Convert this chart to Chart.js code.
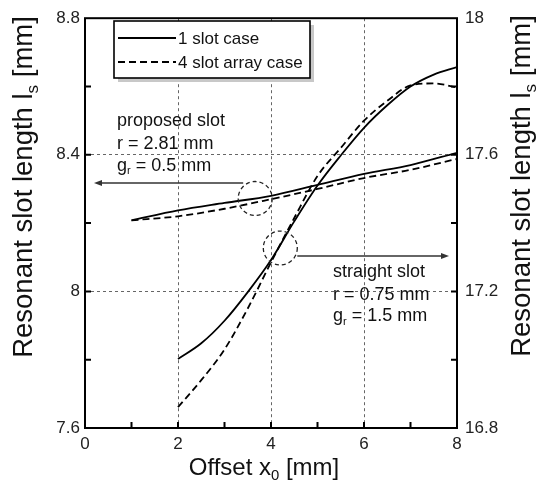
<!DOCTYPE html>
<html>
<head>
<meta charset="utf-8">
<script src="https://cdn.jsdelivr.net/npm/chart.js@4/dist/chart.umd.min.js"></script>
<style>
  body { margin: 0; background: #fff; }
  #wrap { width: 544px; height: 481px; }
</style>
</head>
<body>
<div id="wrap"><canvas id="slots" width="544" height="481"></canvas></div>
<script>
// ---------------- data ----------------
const xProposed = [1, 2, 3, 4, 5, 6, 7, 8];
const proposed1Slot = [8.208, 8.237, 8.259, 8.280, 8.312, 8.344, 8.370, 8.406];
const proposed4Slot = [8.208, 8.220, 8.242, 8.270, 8.300, 8.332, 8.356, 8.388];

const xStraight = [2, 2.5, 3, 3.5, 4, 4.5, 5, 5.5, 6, 6.5, 7, 7.5, 8];
const straight1Slot = [17.002, 17.048, 17.114, 17.198, 17.292, 17.405, 17.510, 17.598, 17.679, 17.745, 17.800, 17.835, 17.857];
const straight4Slot = [16.861, 16.940, 17.030, 17.150, 17.285, 17.415, 17.538, 17.620, 17.700, 17.758, 17.803, 17.809, 17.797];

const xTickLabels = [0, 2, 4, 6, 8];
const leftTickLabels = [7.6, 8, 8.4, 8.8];
const rightTickLabels = [16.8, 17.2, 17.6, 18];
const legendLabels = ["1 slot case", "4 slot array case"];

const FONT = "'Liberation Sans', Arial, sans-serif";
const pts = (xs, ys) => xs.map((x, i) => ({ x: x, y: ys[i] }));
const round1 = v => Math.round(v * 10) / 10;

// ---------------- drawing helpers ----------------
function textWithSub(ctx, parts, x, y, size) {
  // parts: [text, sub, text, ...] alternating normal/subscript, drawn left aligned
  let cx = x;
  parts.forEach((p, i) => {
    const sub = i % 2 === 1;
    ctx.font = (sub ? size * 0.62 : size) + "px " + FONT;
    ctx.fillText(p, cx, sub ? y + size * 0.22 : y);
    cx += ctx.measureText(p).width;
  });
  return cx - x;
}
function measureSub(ctx, parts, size) {
  let w = 0;
  parts.forEach((p, i) => {
    ctx.font = (i % 2 === 1 ? size * 0.62 : size) + "px " + FONT;
    w += ctx.measureText(p).width;
  });
  return w;
}
function arrow(ctx, x1, y, x2) {
  const dir = x2 > x1 ? 1 : -1;
  ctx.beginPath();
  ctx.moveTo(x1, y);
  ctx.lineTo(x2 - dir * 6, y);
  ctx.stroke();
  ctx.beginPath();
  ctx.moveTo(x2, y);
  ctx.lineTo(x2 - dir * 8, y - 3);
  ctx.lineTo(x2 - dir * 8, y + 3);
  ctx.closePath();
  ctx.fill();
}

const decorations = {
  id: 'decorations',
  afterDatasetsDraw(chart) {
    const ctx = chart.ctx;
    const a = chart.chartArea;
    const xs = chart.scales.x, yl = chart.scales.y, yr = chart.scales.y2;
    ctx.save();

    // inward tick marks
    ctx.strokeStyle = '#000';
    ctx.lineWidth = 2;
    ctx.beginPath();
    for (let v = 1; v < 8; v++) {
      const px = xs.getPixelForValue(v);
      ctx.moveTo(px, a.bottom); ctx.lineTo(px, a.bottom - 6);
    }
    for (let v = 7.8; v < 8.75; v += 0.2) {
      const py = yl.getPixelForValue(v);
      ctx.moveTo(a.left, py); ctx.lineTo(a.left + 6, py);
      const pr = yr.getPixelForValue(v + 9.2);
      ctx.moveTo(a.right, pr); ctx.lineTo(a.right - 6, pr);
    }
    ctx.stroke();

    // frame
    ctx.lineWidth = 2;
    ctx.strokeRect(a.left, a.top, a.right - a.left, a.bottom - a.top);

    // legend box with shadow
    const lx = 114, ly = 21, lw = 196, lh = 57;
    ctx.fillStyle = '#c8c8c8';
    ctx.fillRect(lx + 4, ly + 4, lw, lh);
    ctx.fillStyle = '#fff';
    ctx.fillRect(lx, ly, lw, lh);
    ctx.strokeStyle = '#000';
    ctx.lineWidth = 1.6;
    ctx.strokeRect(lx, ly, lw, lh);
    ctx.lineWidth = 1.8;
    ctx.beginPath(); ctx.moveTo(118, 38); ctx.lineTo(176, 38); ctx.stroke();
    ctx.setLineDash([7, 4]);
    ctx.beginPath(); ctx.moveTo(118, 62); ctx.lineTo(176, 62); ctx.stroke();
    ctx.setLineDash([]);
    ctx.fillStyle = '#111';
    ctx.font = "17px " + FONT;
    ctx.textBaseline = 'alphabetic';
    ctx.fillText(legendLabels[0], 178, 44);
    ctx.fillText(legendLabels[1], 178, 68);

    // annotation circles
    ctx.strokeStyle = '#222';
    ctx.lineWidth = 1.3;
    ctx.setLineDash([4, 3]);
    const c1x = xs.getPixelForValue(3.66), c1y = yl.getPixelForValue(8.272);
    const c2x = xs.getPixelForValue(4.2), c2y = yl.getPixelForValue(8.127);
    ctx.beginPath(); ctx.arc(c1x, c1y, 17, 0, Math.PI * 2); ctx.stroke();
    ctx.beginPath(); ctx.arc(c2x, c2y, 17, 0, Math.PI * 2); ctx.stroke();
    ctx.setLineDash([]);

    // arrows
    ctx.strokeStyle = '#333';
    ctx.fillStyle = '#333';
    ctx.lineWidth = 1.3;
    arrow(ctx, c1x - 12, 183, a.left + 9);
    arrow(ctx, c2x + 17, 256, a.right - 8);

    // annotation texts
    ctx.fillStyle = '#111';
    ctx.font = "18px " + FONT;
    ctx.fillText('proposed slot', 117, 126);
    ctx.fillText('r = 2.81 mm', 117, 148.5);
    textWithSub(ctx, ['g', 'r', ' = 0.5 mm'], 117, 170.5, 18);
    ctx.font = "18px " + FONT;
    ctx.fillText('straight slot', 333, 277);
    ctx.fillText('r = 0.75 mm', 333, 299.5);
    textWithSub(ctx, ['g', 'r', ' = 1.5 mm'], 333, 321, 18);

    // axis titles
    const xt = ['Offset x', '0', ' [mm]'];
    const xw = measureSub(ctx, xt, 24);
    textWithSub(ctx, xt, 264 - xw / 2, 475, 24);

    const yt = ['Resonant slot length l', 's', ' [mm]'];
    const yw = measureSub(ctx, yt, 27.5);
    [[32, 187], [530, 186]].forEach(([bx, cy]) => {
      ctx.save();
      ctx.translate(bx, cy);
      ctx.rotate(-Math.PI / 2);
      textWithSub(ctx, yt, -yw / 2, 0, 27.5);
      ctx.restore();
    });

    ctx.restore();
  }
};

const gridColor = want => c => (c.tick && want.some(w => Math.abs(c.tick.value - w) < 1e-6)) ? '#666' : 'rgba(0,0,0,0)';
const tickFont = { family: FONT, size: 17 };

let slotChart = new Chart(document.getElementById("slots"), {
  type: 'scatter',
  data: {
    datasets: [
      {
        label: "proposed, " + legendLabels[0],
        data: pts(xProposed, proposed1Slot),
        yAxisID: 'y'
      },
      {
        label: "proposed, " + legendLabels[1],
        data: pts(xProposed, proposed4Slot),
        yAxisID: 'y',
        borderDash: [7, 4]
      },
      {
        label: "straight, " + legendLabels[0],
        data: pts(xStraight, straight1Slot),
        yAxisID: 'y2'
      },
      {
        label: "straight, " + legendLabels[1],
        data: pts(xStraight, straight4Slot),
        yAxisID: 'y2',
        borderDash: [7, 4]
      }
    ]
  },
  options: {
    responsive: false,
    animation: false,
    devicePixelRatio: 1,
    showLine: true,
    layout: { padding: { top: 16, left: 0, right: 0, bottom: 0 } },
    elements: {
      point: { radius: 0, hoverRadius: 0 },
      line: { borderColor: '#000', borderWidth: 1.8, cubicInterpolationMode: 'monotone', fill: false }
    },
    plugins: {
      legend: { display: false },
      tooltip: { enabled: false },
      title: { display: false }
    },
    scales: {
      x: {
        type: 'linear',
        min: 0, max: 8,
        afterFit: s => { s.height = 53; },
        ticks: {
          stepSize: 1,
          padding: 6,
          color: '#222',
          font: tickFont,
          maxRotation: 0,
          autoSkip: false,
          callback: v => xTickLabels.includes(v) ? String(v) : ''
        },
        grid: { color: gridColor([2, 4, 6]), lineWidth: 1, drawTicks: false },
        border: { display: false, dash: [3, 3] }
      },
      y: {
        position: 'left',
        min: 7.6, max: 8.8,
        afterFit: s => { s.width = 85; },
        ticks: {
          stepSize: 0.2,
          padding: 5,
          color: '#222',
          font: tickFont,
          autoSkip: false,
          callback: v => leftTickLabels.some(t => Math.abs(t - v) < 1e-6) ? String(round1(v)) : ''
        },
        grid: { color: gridColor([8, 8.4]), lineWidth: 1, drawTicks: false },
        border: { display: false, dash: [3, 3] }
      },
      y2: {
        position: 'right',
        min: 16.8, max: 18,
        afterFit: s => { s.width = 87; },
        ticks: {
          stepSize: 0.2,
          padding: 8,
          color: '#222',
          font: tickFont,
          autoSkip: false,
          callback: v => rightTickLabels.some(t => Math.abs(t - v) < 1e-6) ? String(round1(v)) : ''
        },
        grid: { drawOnChartArea: false, drawTicks: false },
        border: { display: false }
      }
    }
  },
  plugins: [decorations]
});
</script>
</body>
</html>
